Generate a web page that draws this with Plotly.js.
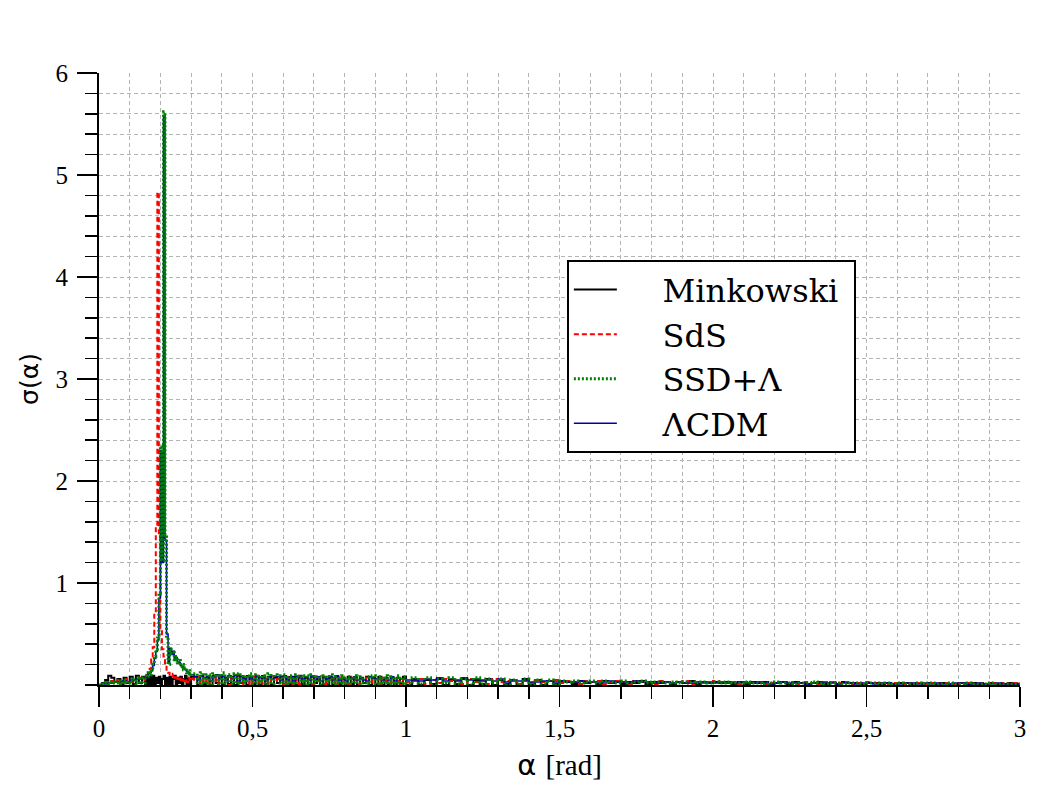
<!DOCTYPE html>
<html>
<head>
<meta charset="utf-8">
<script src="https://cdn.plot.ly/plotly-3.0.1.min.js"></script>
<style>html,body{margin:0;padding:0;background:#fff;}</style>
</head>
<body>
<div id="chart" style="width:1042px;height:792px;"></div>
<script>
// Histogram bin positions (alpha, rad)
const alphaBins = [
  0,0.01,0.02,0.03,0.04,0.05,0.06,0.07,0.08,0.09,0.1,0.11,0.12,0.13,0.14,0.15,
  0.155,0.16,0.165,0.17,0.175,0.18,0.185,0.19,0.195,0.2,0.205,0.21,0.215,0.22,0.225,0.23,0.235,0.24,0.245,0.25,0.255,0.26,0.265,0.27,0.275,0.28,0.285,0.29,0.295,0.3,
  0.31,0.32,0.33,0.34,0.35,0.36,0.37,0.38,0.39,0.4,0.41,0.42,0.43,0.44,0.45,0.46,0.47,0.48,0.49,0.5,
  0.51,0.52,0.53,0.54,0.55,0.56,0.57,0.58,0.59,0.6,0.61,0.62,0.63,0.64,0.65,0.66,0.67,0.68,0.69,0.7,
  0.71,0.72,0.73,0.74,0.75,0.76,0.77,0.78,0.79,0.8,0.81,0.82,0.83,0.84,0.85,0.86,0.87,0.88,0.89,0.9,
  0.91,0.92,0.93,0.94,0.95,0.96,0.97,0.98,0.99,1,
  1.02,1.04,1.06,1.08,1.1,1.12,1.14,1.16,1.18,1.2,1.22,1.24,1.26,1.28,1.3,1.32,1.34,1.36,1.38,1.4,1.42,1.44,1.46,1.48,1.5,
  1.52,1.54,1.56,1.58,1.6,1.62,1.64,1.66,1.68,1.7,1.72,1.74,1.76,1.78,1.8,1.82,1.84,1.86,1.88,1.9,1.92,1.94,1.96,1.98,2,
  2.02,2.04,2.06,2.08,2.1,2.12,2.14,2.16,2.18,2.2,2.22,2.24,2.26,2.28,2.3,2.32,2.34,2.36,2.38,2.4,2.42,2.44,2.46,2.48,2.5,
  2.52,2.54,2.56,2.58,2.6,2.62,2.64,2.66,2.68,2.7,2.72,2.74,2.76,2.78,2.8,2.82,2.84,2.86,2.88,2.9,2.92,2.94,2.96,2.98,3
];

const sigmaMinkowski = [
  0,0.02,0.05,0.09,0.07,0.03,0.06,0.01,0.07,0.02,0.08,0.01,0.09,0.02,0.08,0.01,
  0.07,0.0,0.08,0.01,0.09,0.0,0.07,0.02,0.08,0.0,0.06,0.09,0.01,0.07,0.0,0.08,0.01,0.06,0.09,0.0,0.07,0.02,0.08,0.0,0.06,0.09,0.01,0.07,0.0,0.08,
  0.08,0.0,0.09,0.01,0.07,0.0,0.08,0.02,0.09,0.0,
  0.07,0.01,0.08,0.0,0.09,0.02,0.07,0.0,0.08,0.01,
  0.09,0.0,0.07,0.01,0.08,0.0,0.07,0.02,0.08,0.0,
  0.07,0.01,0.08,0.0,0.09,0.01,0.07,0.0,0.08,0.02,
  0.07,0.0,0.08,0.01,0.07,0.0,0.08,0.01,0.07,0.0,
  0.08,0.01,0.07,0.0,0.07,0.02,0.08,0.0,0.07,0.01,
  0.08,0.0,0.07,0.01,0.07,0.0,0.07,0.01,0.08,0.0,
  0.06,0.0,0.05,0.01,0.06,0.0,0.05,0.01,0.06,0.0,0.05,0.01,0.06,0.0,0.05,0.01,0.05,0.0,0.06,0.01,0.05,0.0,0.04,0.01,0.04,
  0.03,0.01,0.04,0.02,0.03,0.01,0.04,0.02,0.03,0.01,0.03,0.02,0.04,0.01,0.03,0.02,0.03,0.01,0.03,0.02,0.04,0.01,0.03,0.02,0.03,
  0.02,0.03,0.01,0.03,0.01,0.03,0.02,0.03,0.01,0.02,0.03,0.01,0.03,0.02,0.01,0.02,0.03,0.01,0.02,0.01,0.03,0.02,0.02,0.01,0.02,
  0.02,0.01,0.02,0.01,0.02,0.02,0.01,0.02,0.01,0.02,0.01,0.02,0.01,0.01,0.02,0.01,0.02,0.01,0.01,0.02,0.01,0.01,0.02,0.01,0.01
];

const sigmaSdS = [
  0,0.01,0.03,0.02,0.04,0.03,0.05,0.02,0.04,0.06,0.03,0.05,0.04,0.07,0.05,0.08,
  0.1,0.12,0.16,0.25,0.37,0.7,1.55,4.83,1.45,0.55,0.35,0.28,0.2,0.15,0.12,0.1,0.08,0.11,0.07,0.09,0.06,0.08,0.05,0.07,0.04,0.06,0.03,0.07,0.04,0.06,
  0.05,0.08,0.01,0.07,0.02,0.06,0.09,0.01,0.07,0.04,
  0.08,0.0,0.06,0.05,0.08,0.01,0.07,0.04,0.0,0.08,
  0.05,0.01,0.07,0.06,0.0,0.08,0.04,0.06,0.07,0.01,
  0.08,0.0,0.06,0.05,0.01,0.07,0.04,0.06,0.0,0.07,
  0.05,0.08,0.01,0.06,0.04,0.07,0.0,0.05,0.08,0.02,
  0.01,0.07,0.05,0.0,0.06,0.04,0.07,0.01,0.05,0.06,
  0.0,0.07,0.04,0.05,0.01,0.06,0.04,0.0,0.06,0.03,
  0.04,0.06,0.01,0.05,0.02,0.06,0.04,0.05,0.01,0.06,0.03,0.05,0.01,0.06,0.03,0.04,0.05,0.01,0.04,0.02,0.05,0.03,0.04,0.05,0.02,
  0.04,0.03,0.01,0.04,0.03,0.04,0.01,0.03,0.04,0.03,0.01,0.04,0.03,0.03,0.01,0.04,0.03,0.02,0.03,0.04,0.01,0.03,0.03,0.02,0.04,
  0.03,0.02,0.03,0.01,0.03,0.02,0.03,0.01,0.02,0.03,0.02,0.03,0.01,0.02,0.03,0.02,0.01,0.03,0.02,0.02,0.03,0.01,0.02,0.02,0.03,
  0.02,0.02,0.01,0.02,0.02,0.01,0.02,0.02,0.01,0.02,0.02,0.01,0.02,0.01,0.02,0.02,0.01,0.02,0.01,0.02,0.01,0.02,0.01,0.02,0.01
];

const sigmaSSDLambda = [
  0,0.01,0.02,0.01,0.03,0.02,0.04,0.01,0.05,0.02,0.04,0.06,0.01,0.07,0.02,0.09,
  0.08,0.12,0.1,0.15,0.2,0.28,0.35,0.46,0.9,2.34,1.22,5.62,1.45,0.46,0.2,0.35,0.31,0.32,0.25,0.28,0.22,0.24,0.18,0.2,0.15,0.17,0.12,0.14,0.09,0.11,
  0.11,0.01,0.12,0.02,0.1,0.0,0.11,0.09,0.01,0.12,
  0.02,0.1,0.01,0.11,0.0,0.1,0.02,0.09,0.11,0.01,
  0.1,0.02,0.09,0.0,0.11,0.01,0.1,0.09,0.02,0.1,
  0.01,0.09,0.0,0.1,0.08,0.02,0.09,0.01,0.1,0.02,
  0.08,0.0,0.09,0.02,0.1,0.01,0.08,0.02,0.09,0.0,
  0.08,0.02,0.09,0.01,0.08,0.02,0.0,0.08,0.09,0.01,
  0.08,0.02,0.09,0.01,0.08,0.0,0.09,0.02,0.08,0.01,
  0.07,0.01,0.07,0.0,0.06,0.02,0.07,0.01,0.06,0.0,0.07,0.01,0.06,0.02,0.06,0.0,0.05,0.01,0.06,0.0,0.05,0.01,0.05,0.0,0.04,
  0.03,0.04,0.02,0.03,0.04,0.02,0.04,0.03,0.02,0.04,0.02,0.03,0.04,0.02,0.03,0.03,0.02,0.03,0.02,0.03,0.03,0.02,0.03,0.02,0.03,
  0.02,0.03,0.02,0.02,0.03,0.02,0.02,0.01,0.02,0.03,0.02,0.02,0.01,0.02,0.02,0.03,0.02,0.01,0.02,0.02,0.01,0.02,0.02,0.01,0.02,
  0.02,0.01,0.02,0.01,0.02,0.01,0.01,0.02,0.01,0.02,0.01,0.01,0.02,0.01,0.01,0.02,0.01,0.01,0.01,0.02,0.01,0.01,0.01,0.01,0.01
];

const sigmaLCDM = [
  0,0.01,0.01,0.02,0.02,0.03,0.03,0.04,0.04,0.03,0.05,0.05,0.06,0.06,0.07,0.08,
  0.07,0.11,0.12,0.14,0.19,0.26,0.33,0.44,0.85,2.3,1.2,5.58,1.42,0.5,0.22,0.36,0.3,0.33,0.24,0.27,0.23,0.22,0.19,0.18,0.16,0.15,0.13,0.12,0.1,0.1,
  0.08,0.05,0.09,0.07,0.08,0.04,0.09,0.1,0.06,0.08,
  0.05,0.09,0.07,0.09,0.04,0.08,0.06,0.09,0.06,0.05,
  0.08,0.07,0.09,0.04,0.08,0.06,0.08,0.08,0.05,0.09,
  0.05,0.08,0.04,0.08,0.07,0.06,0.08,0.05,0.09,0.05,
  0.08,0.04,0.07,0.06,0.08,0.05,0.09,0.05,0.06,0.04,
  0.07,0.06,0.08,0.05,0.07,0.05,0.04,0.08,0.07,0.06,
  0.06,0.05,0.07,0.05,0.08,0.04,0.07,0.06,0.06,0.05,
  0.05,0.04,0.06,0.05,0.07,0.04,0.06,0.04,0.07,0.05,0.06,0.04,0.05,0.04,0.06,0.03,0.04,0.04,0.05,0.03,0.03,0.04,0.04,0.03,0.04,
  0.03,0.03,0.04,0.03,0.03,0.02,0.03,0.04,0.03,0.03,0.02,0.04,0.03,0.03,0.02,0.03,0.03,0.02,0.03,0.02,0.02,0.03,0.02,0.03,0.02,
  0.03,0.02,0.02,0.03,0.02,0.02,0.03,0.02,0.01,0.02,0.03,0.02,0.02,0.02,0.01,0.02,0.02,0.02,0.03,0.01,0.02,0.02,0.01,0.02,0.02,
  0.01,0.02,0.02,0.01,0.01,0.02,0.02,0.01,0.02,0.01,0.02,0.01,0.01,0.02,0.02,0.01,0.01,0.02,0.01,0.01,0.02,0.01,0.01,0.01,0.01
];

const yTickVals = [1, 2, 3, 4, 5, 6];

const pad = '\u00a0\u00a0\u00a0\u00a0';
const traces = [
  {name: pad + 'Minkowski\u00a0', y: sigmaMinkowski, color: '#000000', dash: 'solid', width: 2, rank: 1},
  {name: pad + 'SdS', y: sigmaSdS, color: '#ff0000', dash: '5px,3px', width: 2, rank: 2},
  {name: pad + 'ΛCDM', y: sigmaLCDM, color: '#0000a8', dash: 'solid', width: 1.5, rank: 4},
  {name: pad + 'SSD+Λ', y: sigmaSSDLambda, color: '#008000', dash: '2px,2px', width: 3, rank: 3}
].map(s => ({
  type: 'scatter', mode: 'lines', x: alphaBins, y: s.y, name: s.name,
  line: {color: s.color, dash: s.dash, width: s.width, shape: 'hv'},
  legendrank: s.rank
}));

const gridColor = '#b4b4b4';
const gridDash = '4px,3px';
const tickFont = {family: 'Liberation Serif, serif', size: 25, color: '#000'};

const layout = {
  width: 1042, height: 792,
  margin: {l: 99, r: 22, t: 73, b: 107, pad: 0},
  paper_bgcolor: '#fff', plot_bgcolor: '#fff',
  separators: ',.',
  showlegend: true,
  xaxis: {
    range: [0, 3], tickmode: 'linear', tick0: 0, dtick: 0.5,
    ticks: 'outside', ticklen: 20, tickwidth: 1.5, tickcolor: '#000',
    showline: true, linewidth: 2, linecolor: '#000',
    showgrid: true, gridcolor: gridColor, griddash: gridDash, gridwidth: 1,
    zeroline: false, tickfont: tickFont,
    minor: {dtick: 0.1, tick0: 0, ticks: 'outside', ticklen: 12, tickwidth: 1.5, tickcolor: '#000',
            showgrid: true, gridcolor: gridColor, griddash: gridDash, gridwidth: 1},
    title: {text: 'α <span style="font-family:Liberation Serif">[rad]</span>',
            font: {family: 'DejaVu Sans, sans-serif', size: 29, color: '#000'}, standoff: 14}
  },
  yaxis: {
    range: [0, 6], tickmode: 'array', tickvals: yTickVals,
    ticks: 'outside', ticklen: 20, tickwidth: 1.5, tickcolor: '#000',
    showline: true, linewidth: 2, linecolor: '#000',
    showgrid: true, gridcolor: gridColor, griddash: gridDash, gridwidth: 1,
    zeroline: false, tickfont: tickFont, ticklabelstandoff: 4,
    minor: {dtick: 0.2, tick0: 0, ticks: 'outside', ticklen: 12, tickwidth: 1.5, tickcolor: '#000',
            showgrid: true, gridcolor: gridColor, griddash: gridDash, gridwidth: 1},
    title: {text: 'σ(α)', font: {family: 'DejaVu Sans, sans-serif', size: 25, color: '#000'}, standoff: 10}
  },
  legend: {
    x: 0.508, y: 0.694, xanchor: 'left', yanchor: 'top',
    bgcolor: '#fff', bordercolor: '#000', borderwidth: 2,
    font: {family: 'DejaVu Serif, serif', size: 32, color: '#000'},
    itemwidth: 43, tracegroupgap: 0
  }
};

Plotly.newPlot('chart', traces, layout, {displayModeBar: false, staticPlot: true});
</script>
</body>
</html>
